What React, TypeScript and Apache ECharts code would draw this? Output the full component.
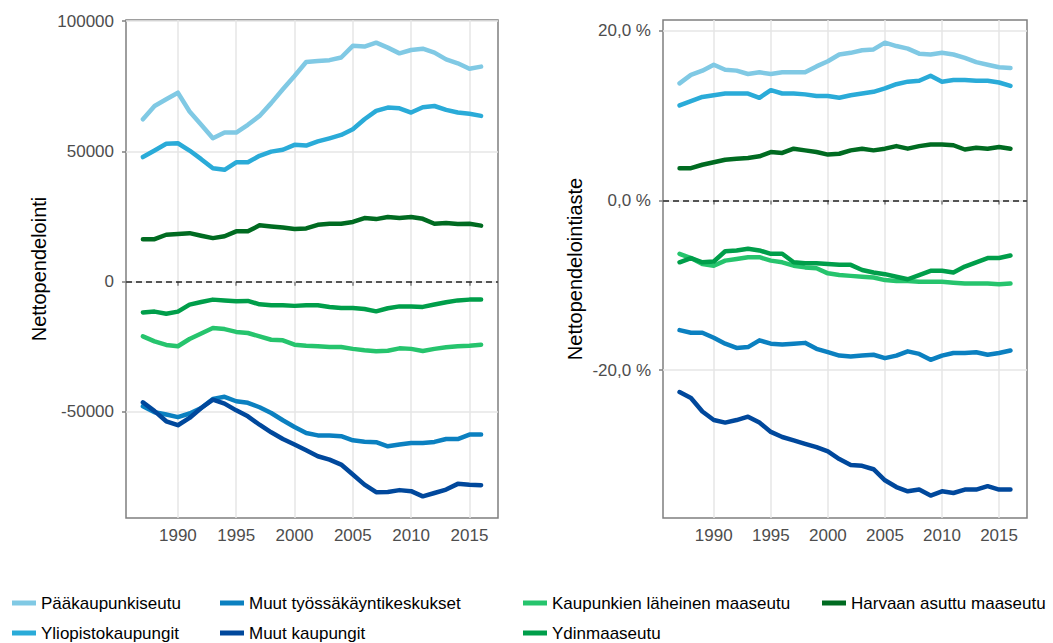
import React, { useEffect, useRef } from "react";
import * as echarts from "echarts";

const years = [1987,1988,1989,1990,1991,1992,1993,1994,1995,1996,1997,1998,1999,2000,2001,2002,2003,2004,2005,2006,2007,2008,2009,2010,2011,2012,2013,2014,2015,2016];

const seriesNames = [
  "Pääkaupunkiseutu",
  "Yliopistokaupungit",
  "Muut työssäkäyntikeskukset",
  "Muut kaupungit",
  "Kaupunkien läheinen maaseutu",
  "Ydinmaaseutu",
  "Harvaan asuttu maaseutu",
];

const seriesColors = ["#80c9e4", "#2aabd8", "#0b80c0", "#00489c", "#26c46d", "#009e4a", "#006b21"];

// Nettopendelointi (absolute)
const absPaakaupunkiseutu = [62300,67400,70000,72500,65300,60200,55000,57200,57200,60200,63600,68500,73800,78900,84300,84700,85000,86000,90500,90200,91700,89800,87600,88900,89400,87900,85300,83800,81700,82500];
const absYliopisto = [47800,50300,52900,53100,50300,47000,43500,42900,45800,45800,48300,49900,50600,52500,52200,53800,55000,56300,58500,62300,65500,66800,66500,64900,66900,67400,65900,64900,64400,63600];
const absMuutTyo = [-47800,-50100,-51000,-52000,-50600,-48500,-45000,-44200,-45900,-46500,-48200,-50400,-53200,-55800,-58100,-59000,-59000,-59300,-60900,-61400,-61600,-63200,-62500,-61900,-61900,-61500,-60400,-60400,-58700,-58700];
const absMuutKaup = [-46300,-49700,-53600,-55100,-52300,-48500,-45300,-46800,-49400,-51700,-54900,-57800,-60400,-62500,-64700,-67000,-68300,-70200,-74000,-77900,-80800,-80700,-80000,-80400,-82400,-81100,-79800,-77600,-77900,-78100];
const absKaupLah = [-21000,-22900,-24300,-24800,-22000,-19900,-17800,-18200,-19300,-19700,-21000,-22300,-22500,-24200,-24600,-24800,-25100,-25100,-25800,-26300,-26700,-26500,-25600,-25800,-26600,-25800,-25200,-24800,-24600,-24200];
const absYdin = [-11800,-11500,-12300,-11500,-8800,-7800,-6900,-7200,-7500,-7400,-8700,-9100,-9100,-9300,-9100,-9100,-9700,-10100,-10100,-10500,-11400,-10200,-9500,-9500,-9700,-8800,-7900,-7200,-6900,-6900];
const absHarvaan = [16300,16300,18000,18300,18600,17600,16700,17400,19300,19300,21600,21200,20800,20200,20400,21800,22200,22200,22900,24400,24000,24800,24400,24800,24100,22200,22500,22100,22200,21500];

// Nettopendelointiaste (%)
const pctPaakaupunkiseutu = [13.8,14.8,15.3,16.0,15.4,15.3,14.9,15.1,14.9,15.1,15.1,15.1,15.8,16.4,17.2,17.4,17.7,17.8,18.6,18.2,17.9,17.3,17.2,17.4,17.2,16.8,16.3,16.0,15.7,15.6];
const pctYliopisto = [11.2,11.7,12.2,12.4,12.6,12.6,12.6,12.1,13.0,12.6,12.6,12.5,12.3,12.3,12.1,12.4,12.6,12.8,13.2,13.7,14.0,14.1,14.7,14.0,14.2,14.2,14.1,14.1,13.9,13.5];
const pctMuutTyo = [-15.3,-15.6,-15.6,-16.2,-16.9,-17.4,-17.3,-16.5,-16.9,-17.0,-16.9,-16.8,-17.5,-17.9,-18.3,-18.4,-18.3,-18.2,-18.6,-18.3,-17.8,-18.1,-18.8,-18.3,-18.0,-18.0,-17.9,-18.2,-18.0,-17.7];
const pctMuutKaup = [-22.6,-23.3,-24.9,-25.9,-26.2,-25.9,-25.5,-26.2,-27.3,-27.9,-28.3,-28.7,-29.1,-29.6,-30.5,-31.2,-31.3,-31.7,-33.0,-33.8,-34.3,-34.1,-34.8,-34.3,-34.5,-34.1,-34.1,-33.7,-34.1,-34.1];
const pctKaupLah = [-6.3,-6.8,-7.5,-7.7,-7.1,-6.9,-6.7,-6.7,-7.1,-7.3,-7.7,-7.9,-8.0,-8.6,-8.8,-8.9,-9.0,-9.1,-9.4,-9.5,-9.5,-9.6,-9.6,-9.6,-9.7,-9.8,-9.8,-9.8,-9.9,-9.8];
const pctYdin = [-7.3,-6.8,-7.3,-7.2,-6.0,-5.9,-5.7,-5.9,-6.3,-6.3,-7.3,-7.4,-7.4,-7.5,-7.6,-7.6,-8.2,-8.5,-8.7,-9.0,-9.3,-8.8,-8.3,-8.3,-8.5,-7.8,-7.3,-6.8,-6.8,-6.5];
const pctHarvaan = [3.8,3.8,4.2,4.5,4.8,4.9,5.0,5.2,5.7,5.6,6.1,5.9,5.7,5.4,5.5,5.9,6.1,5.9,6.1,6.4,6.1,6.4,6.6,6.6,6.5,6.0,6.2,6.1,6.3,6.1];

const absValues = [absPaakaupunkiseutu, absYliopisto, absMuutTyo, absMuutKaup, absKaupLah, absYdin, absHarvaan];
const pctValues = [pctPaakaupunkiseutu, pctYliopisto, pctMuutTyo, pctMuutKaup, pctKaupLah, pctYdin, pctHarvaan];

const xTickValues = [1990, 1995, 2000, 2005, 2010, 2015];
const absTickValues = [-50000, 0, 50000, 100000];
const pctTickValues = [-20, 0, 20];

const FONT = "'Liberation Sans', Arial, sans-serif";

export default function App() {
  const ref = useRef<HTMLDivElement>(null);

  useEffect(() => {
    if (!ref.current) return;
    const chart = echarts.init(ref.current, undefined, { renderer: "svg" });

    const gridLine = { color: "#e6e6e6", width: 1.5 };
    const tickStyle = { color: "#7f7f7f", width: 1.5 };
    const labelStyle = { color: "#4d4d4d", fontSize: 17, fontFamily: FONT };

    const makeX = (gi: number) => ({
      gridIndex: gi,
      type: "value",
      min: 1985.55,
      max: 2017.45,
      axisLine: { show: false },
      axisTick: { show: true, length: 4, lineStyle: tickStyle, customValues: xTickValues },
      axisLabel: { ...labelStyle, margin: 9, customValues: xTickValues, formatter: (v: number) => String(v) },
      splitLine: { show: true, lineStyle: gridLine },
    });

    const dashed = {
      silent: true,
      symbol: ["none", "none"],
      label: { show: false },
      lineStyle: { type: [6, 4], color: "#222", width: 1.5 },
      data: [{ yAxis: 0 }],
      animation: false,
    };

    const series: any[] = [];
    seriesNames.forEach((name, i) => {
      series.push({
        name,
        type: "line",
        xAxisIndex: 0,
        yAxisIndex: 0,
        showSymbol: false,
        symbol: "none",
        color: seriesColors[i],
        lineStyle: { width: 4.5, color: seriesColors[i], join: "round", cap: "round" },
        data: years.map((y, k) => [y, absValues[i][k]]),
        z: 3,
        ...(i === 0 ? { markLine: dashed } : {}),
      });
    });
    seriesNames.forEach((name, i) => {
      series.push({
        name,
        type: "line",
        xAxisIndex: 1,
        yAxisIndex: 1,
        showSymbol: false,
        symbol: "none",
        color: seriesColors[i],
        lineStyle: { width: 4.5, color: seriesColors[i], join: "round", cap: "round" },
        data: years.map((y, k) => [y, pctValues[i][k]]),
        z: 3,
        ...(i === 0 ? { markLine: dashed } : {}),
      });
    });

    const legendPos: [number, number][] = [
      [12, 593], [12, 623], [220, 593], [220, 623], [523, 593], [523, 623], [822, 593],
    ];
    const legends = seriesNames.map((name, i) => ({
      data: [name],
      left: legendPos[i][0],
      top: legendPos[i][1],
      padding: 0,
      itemWidth: 24,
      itemHeight: 5,
      icon: "rect",
      selectedMode: false,
      textStyle: { color: "#000", fontSize: 17, fontFamily: FONT, lineHeight: 20 },
    }));

    chart.setOption({
      animation: false,
      backgroundColor: "#fff",
      textStyle: { fontFamily: FONT },
      grid: [
        { left: 126, top: 20, width: 372, height: 498, show: true, borderColor: "#7f7f7f", borderWidth: 1.5, outerBoundsMode: "none", containLabel: false },
        { left: 663, top: 20, width: 364, height: 498, show: true, borderColor: "#7f7f7f", borderWidth: 1.5, outerBoundsMode: "none", containLabel: false },
      ],
      xAxis: [makeX(0), makeX(1)],
      yAxis: [
        {
          gridIndex: 0,
          type: "value",
          min: -90700,
          max: 100400,
          splitNumber: 4,
          name: "Nettopendelointi",
          nameLocation: "middle",
          nameGap: 77,
          nameTextStyle: { color: "#000", fontSize: 20, fontFamily: FONT },
          axisLine: { show: false },
          axisTick: { show: true, length: 4, lineStyle: tickStyle, customValues: absTickValues },
          axisLabel: { ...labelStyle, margin: 12, customValues: absTickValues, formatter: (v: number) => String(v) },
          splitLine: { show: true, lineStyle: gridLine },
        },
        {
          gridIndex: 1,
          type: "value",
          min: -37.45,
          max: 21.27,
          splitNumber: 3,
          name: "Nettopendelointiaste",
          nameLocation: "middle",
          nameGap: 78,
          nameTextStyle: { color: "#000", fontSize: 20, fontFamily: FONT },
          axisLine: { show: false },
          axisTick: { show: true, length: 4, lineStyle: tickStyle, customValues: pctTickValues },
          axisLabel: {
            ...labelStyle,
            margin: 12,
            customValues: pctTickValues,
            formatter: (v: number) => v.toFixed(1).replace(".", ",") + " %",
          },
          splitLine: { show: true, lineStyle: gridLine },
        },
      ],
      legend: legends,
      series,
    });

    return () => chart.dispose();
  }, []);

  return (
    <div
      ref={ref}
      style={{ position: "fixed", left: 0, top: 0, width: 1053, height: 643 }}
    />
  );
}
